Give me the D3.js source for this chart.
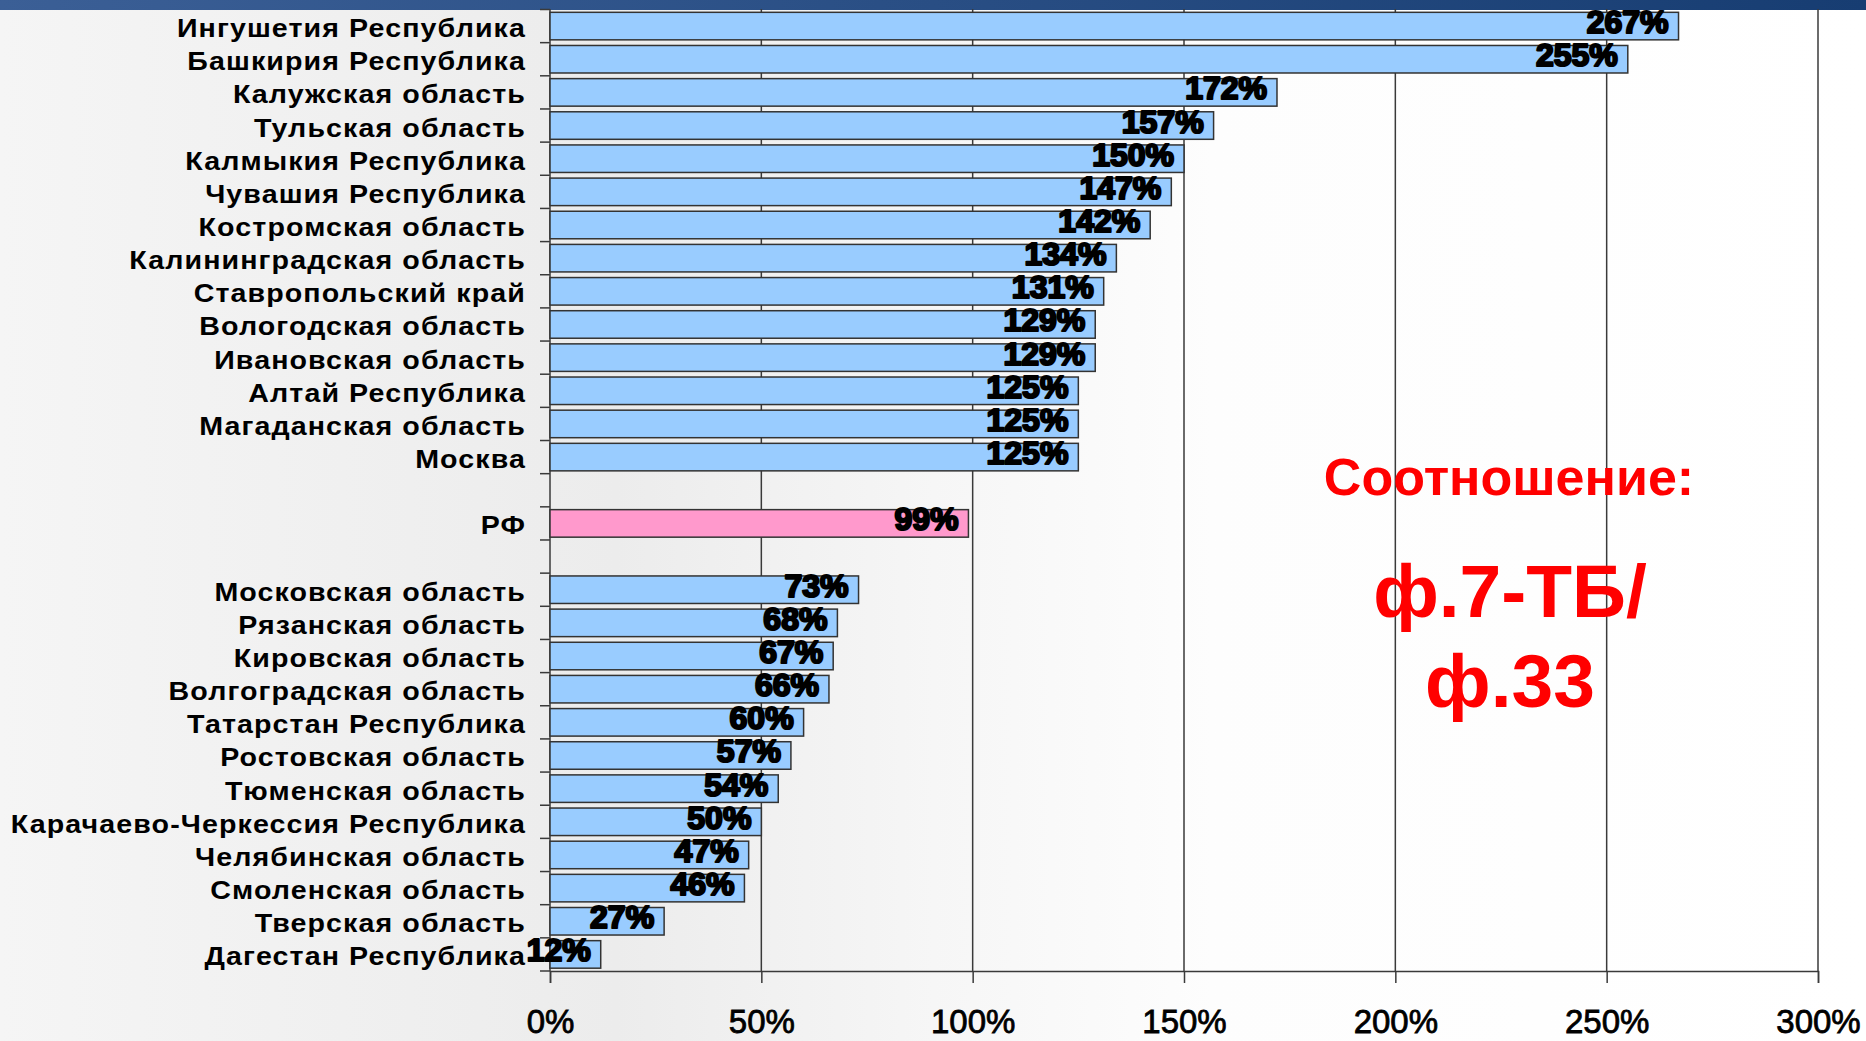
<!DOCTYPE html>
<html><head><meta charset="utf-8">
<script src="https://cdn.jsdelivr.net/npm/d3@7"></script>
<style>
html,body{margin:0;padding:0;overflow:hidden;}
svg{display:block;}
</style></head>
<body>
<script>
const regions = ["Ингушетия Республика","Башкирия Республика","Калужская область","Тульская область","Калмыкия Республика","Чувашия Республика","Костромская область","Калининградская область","Ставропольский край","Вологодская область","Ивановская область","Алтай Республика","Магаданская область","Москва","","РФ","","Московская область","Рязанская область","Кировская область","Волгоградская область","Татарстан Республика","Ростовская область","Тюменская область","Карачаево-Черкессия Республика","Челябинская область","Смоленская область","Тверская область","Дагестан Республика"];
const values = [267,255,172,157,150,147,142,134,131,129,129,125,125,125,null,99,null,73,68,67,66,60,57,54,50,47,46,27,12];
const xTicks = [0,50,100,150,200,250,300];
const noteTitle = "Соотношение:";
const noteLines = ["ф.7-ТБ/","ф.33"];

const W = 1866, H = 1041;
const svg = d3.select("body").append("svg").attr("width", W).attr("height", H);
const defs = svg.append("defs");
const bg = defs.append("linearGradient").attr("id","bg").attr("x1","0").attr("x2","1").attr("y1","0").attr("y2","0");
bg.append("stop").attr("offset","0").attr("stop-color","#f5f5f5");
bg.append("stop").attr("offset","0.33").attr("stop-color","#ececec");
bg.append("stop").attr("offset","0.5").attr("stop-color","#f6f6f6");
bg.append("stop").attr("offset","0.65").attr("stop-color","#fdfdfd");
bg.append("stop").attr("offset","1").attr("stop-color","#ffffff");
const band = defs.append("linearGradient").attr("id","band").attr("x1","0").attr("x2","1");
band.append("stop").attr("offset","0").attr("stop-color","#3b5f96");
band.append("stop").attr("offset","1").attr("stop-color","#173d72");

svg.append("rect").attr("width",W).attr("height",H).attr("fill","url(#bg)");
svg.append("rect").attr("width",W).attr("height",10).attr("fill","url(#band)");

const x = d3.scaleLinear().domain([0,300]).range([550,1818]);
const idx = regions.map((d,i)=>i);
const y = d3.scaleBand().domain(idx).range([9.5,971]).paddingInner(0.17).paddingOuter(0.085);

// gridlines
svg.append("g").selectAll("line").data(xTicks.slice(1)).join("line")
  .attr("x1",d=>x(d)).attr("x2",d=>x(d)).attr("y1",9).attr("y2",971)
  .attr("stroke","#3a3a3a").attr("stroke-width",1.5);

// x axis
const xAxis = svg.append("g").attr("transform","translate(0,971)")
  .call(d3.axisBottom(x).tickValues(xTicks).tickFormat(d=>d+"%").tickSize(12).tickPadding(0));
xAxis.select(".domain").attr("stroke","#3a3a3a").attr("stroke-width",1.5);
xAxis.selectAll(".tick line").attr("stroke","#3a3a3a").attr("stroke-width",1.5);
xAxis.selectAll(".tick text").attr("y",62).attr("dy",0)
  .attr("font-family","'Liberation Sans',Arial,sans-serif").attr("font-size",33).attr("font-weight","normal")
  .attr("fill","#000").attr("stroke","#000").attr("stroke-width",0.8);

// y axis line + ticks at band boundaries
const step = y.step();
const bounds = d3.range(regions.length+1).map(i => 9.5 + i*step);
svg.append("line").attr("x1",550).attr("x2",550).attr("y1",9).attr("y2",971)
  .attr("stroke","#3a3a3a").attr("stroke-width",1.5);
svg.append("g").selectAll("line").data(bounds).join("line")
  .attr("x1",540).attr("x2",550).attr("y1",d=>d).attr("y2",d=>d)
  .attr("stroke","#3a3a3a").attr("stroke-width",1.5);

// bars
const barData = idx.filter(i => values[i] !== null);
svg.append("g").selectAll("rect").data(barData).join("rect")
  .attr("x",x(0)).attr("y",i=>y(i)).attr("height",y.bandwidth())
  .attr("width",i=>x(values[i])-x(0))
  .attr("fill",i=>regions[i]==="РФ" ? "#ff99cc" : "#99ccff")
  .attr("stroke","#333").attr("stroke-width",1.5);

// category labels (slightly stretched horizontally like the original)
svg.append("g").selectAll("text").data(idx.filter(i=>regions[i]!=="")).join("text")
  .attr("transform",i=>`translate(526,${y(i)+y.bandwidth()/2+11}) scale(1.1,1)`)
  .attr("x",0).attr("y",0)
  .attr("text-anchor","end")
  .attr("font-family","'Liberation Sans',Arial,sans-serif").attr("font-weight","bold")
  .attr("font-size",26).attr("letter-spacing","1px").attr("fill","#000")
  .text(i=>regions[i]);

// value labels
svg.append("g").selectAll("text").data(barData).join("text")
  .attr("x",i=>x(values[i])-10).attr("y",i=>y(i)+y.bandwidth()/2+7)
  .attr("text-anchor","end")
  .attr("font-family","'Liberation Sans',Arial,sans-serif").attr("font-weight","bold")
  .attr("font-size",32).attr("fill","#000").attr("stroke","#000").attr("stroke-width",2.2)
  .attr("stroke-linejoin","round")
  .text(i=>values[i]+"%");

// note
const note = svg.append("g").attr("font-family","'Liberation Sans',Arial,sans-serif").attr("font-weight","bold")
  .attr("fill","#ff0000").attr("text-anchor","middle");
note.append("text").attr("x",1509).attr("y",495).attr("font-size",52).text(noteTitle);
note.selectAll("text.l").data(noteLines).join("text").attr("class","l")
  .attr("x",1510).attr("y",(d,i)=>617+i*90).attr("font-size",75).text(d=>d);
</script>
</body></html>
